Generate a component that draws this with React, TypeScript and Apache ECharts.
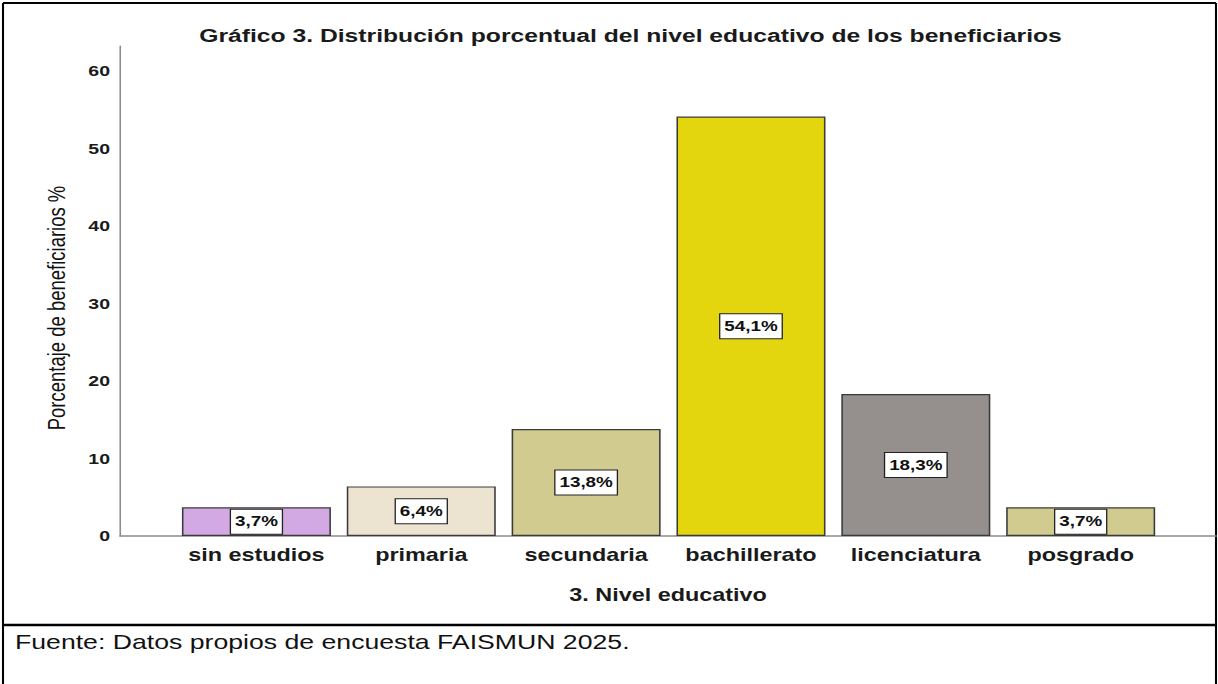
import React, { useEffect, useRef } from "react";
import * as echarts from "echarts";

const categories = ["sin estudios", "primaria", "secundaria", "bachillerato", "licenciatura", "posgrado"];
const values = [3.7, 6.4, 13.8, 54.1, 18.3, 3.7];
const barColors = ["#D2A9E3", "#ECE4D0", "#D1CB90", "#E3D60F", "#958F8E", "#D1CB90"];
const yTicks = [0, 10, 20, 30, 40, 50, 60];
const titleText = "Gráfico 3. Distribución porcentual del nivel educativo de los beneficiarios";
const yAxisName = "Porcentaje de beneficiarios %";
const xAxisName = "3. Nivel educativo";
const sourceText = "Fuente: Datos propios de encuesta FAISMUN 2025.";

const Y_MAX = 63.2;
// The reference picture is stretched horizontally; the chart is laid out
// in narrower coordinates and widened with a CSS scaleX.
const S = 1.3;
const W = 1218 / S;
const H = 684;
const sx = (x: number) => x / S;

export default function App() {
  const ref = useRef<HTMLDivElement>(null);
  useEffect(() => {
    if (!ref.current) return;
    const chart = echarts.init(ref.current, undefined, { renderer: "svg" });
    const font = "'Liberation Sans', Arial, sans-serif";
    chart.setOption({
      animation: false,
      backgroundColor: "#ffffff",
      title: {
        text: titleText,
        left: sx(624),
        top: 21,
        textAlign: "center",
        textStyle: { fontFamily: font, fontWeight: "bold", fontSize: 19, color: "#1a1a1a" },
      },
      grid: [
        { left: sx(174), right: sx(55), top: 46, bottom: 148 },
        { left: sx(120), right: sx(2), top: 46, bottom: 148 },
      ],
      xAxis: [
        {
          type: "category",
          gridIndex: 0,
          data: categories,
          axisLine: { show: false },
          axisTick: { show: false },
          axisLabel: {
            interval: 0,
            hideOverlap: false,
            fontFamily: font,
            fontWeight: "bold",
            fontSize: 18,
            color: "#1a1a1a",
            margin: 10,
          },
        },
        {
          type: "value",
          gridIndex: 1,
          min: 0,
          max: 1,
          axisLine: { show: true, lineStyle: { color: "#8c8c8c", width: 1.5 } },
          axisTick: { show: false },
          axisLabel: { show: false },
          splitLine: { show: false },
          name: xAxisName,
          nameLocation: "middle",
          nameGap: 50,
          nameTextStyle: { fontFamily: font, fontWeight: "bold", fontSize: 18, color: "#1a1a1a" },
        },
      ],
      yAxis: [
        {
          type: "value",
          gridIndex: 0,
          min: 0,
          max: Y_MAX,
          show: false,
          splitLine: { show: false },
        },
        {
          type: "value",
          gridIndex: 1,
          min: 0,
          max: Y_MAX,
          interval: 10,
          axisLine: { show: true, lineStyle: { color: "#8c8c8c", width: 1.2 } },
          axisTick: { show: false },
          splitLine: { show: false },
          axisLabel: {
            fontFamily: font,
            fontWeight: "bold",
            fontSize: 15,
            color: "#1a1a1a",
            margin: sx(10),
            showMaxLabel: false,
            formatter: (v: number) => (yTicks.includes(v) ? String(v) : ""),
          },
        },
      ],
      series: [
        {
          type: "bar",
          xAxisIndex: 0,
          yAxisIndex: 0,
          barWidth: sx(149),
          data: values.map((v, i) => ({
            value: v,
            itemStyle: { color: barColors[i], borderColor: "#3a3a3a", borderWidth: 1.2 },
          })),
          label: {
            show: true,
            position: "inside",
            formatter: (p: any) => String(p.value).replace(".", ",") + "%",
            fontFamily: font,
            fontWeight: "bold",
            fontSize: 14.5,
            color: "#111",
            backgroundColor: "#ffffff",
            borderColor: "#222",
            borderWidth: 1,
            padding: [5, 3, 4, 3],
          },
        },
      ],
      graphic: [
        {
          type: "text",
          x: sx(57),
          y: 308,
          rotation: Math.PI / 2,
          style: {
            text: yAxisName,
            fontFamily: font,
            fontSize: 18.5,
            fill: "#111",
            align: "center",
            verticalAlign: "middle",
          },
        },
        {
          type: "text",
          x: sx(15),
          y: 642,
          style: {
            text: sourceText,
            fontFamily: font,
            fontSize: 20.5,
            fill: "#111",
            align: "left",
            verticalAlign: "middle",
          },
        },
        { type: "line", shape: { x1: sx(3), y1: 3, x2: sx(1216), y2: 3 }, style: { stroke: "#000", lineWidth: 2 } },
        { type: "line", shape: { x1: sx(3), y1: 3, x2: sx(3), y2: 684 }, style: { stroke: "#000", lineWidth: 1.6 } },
        { type: "line", shape: { x1: sx(1216), y1: 3, x2: sx(1216), y2: 684 }, style: { stroke: "#000", lineWidth: 1.6 } },
        { type: "line", shape: { x1: sx(3), y1: 625, x2: sx(1216), y2: 625 }, style: { stroke: "#000", lineWidth: 2.5 } },
      ],
    });
    return () => chart.dispose();
  }, []);
  return (
    <div
      ref={ref}
      style={{
        position: "fixed",
        left: 0,
        top: 0,
        width: W,
        height: H,
        transform: `scaleX(${S})`,
        transformOrigin: "0 0",
      }}
    />
  );
}
